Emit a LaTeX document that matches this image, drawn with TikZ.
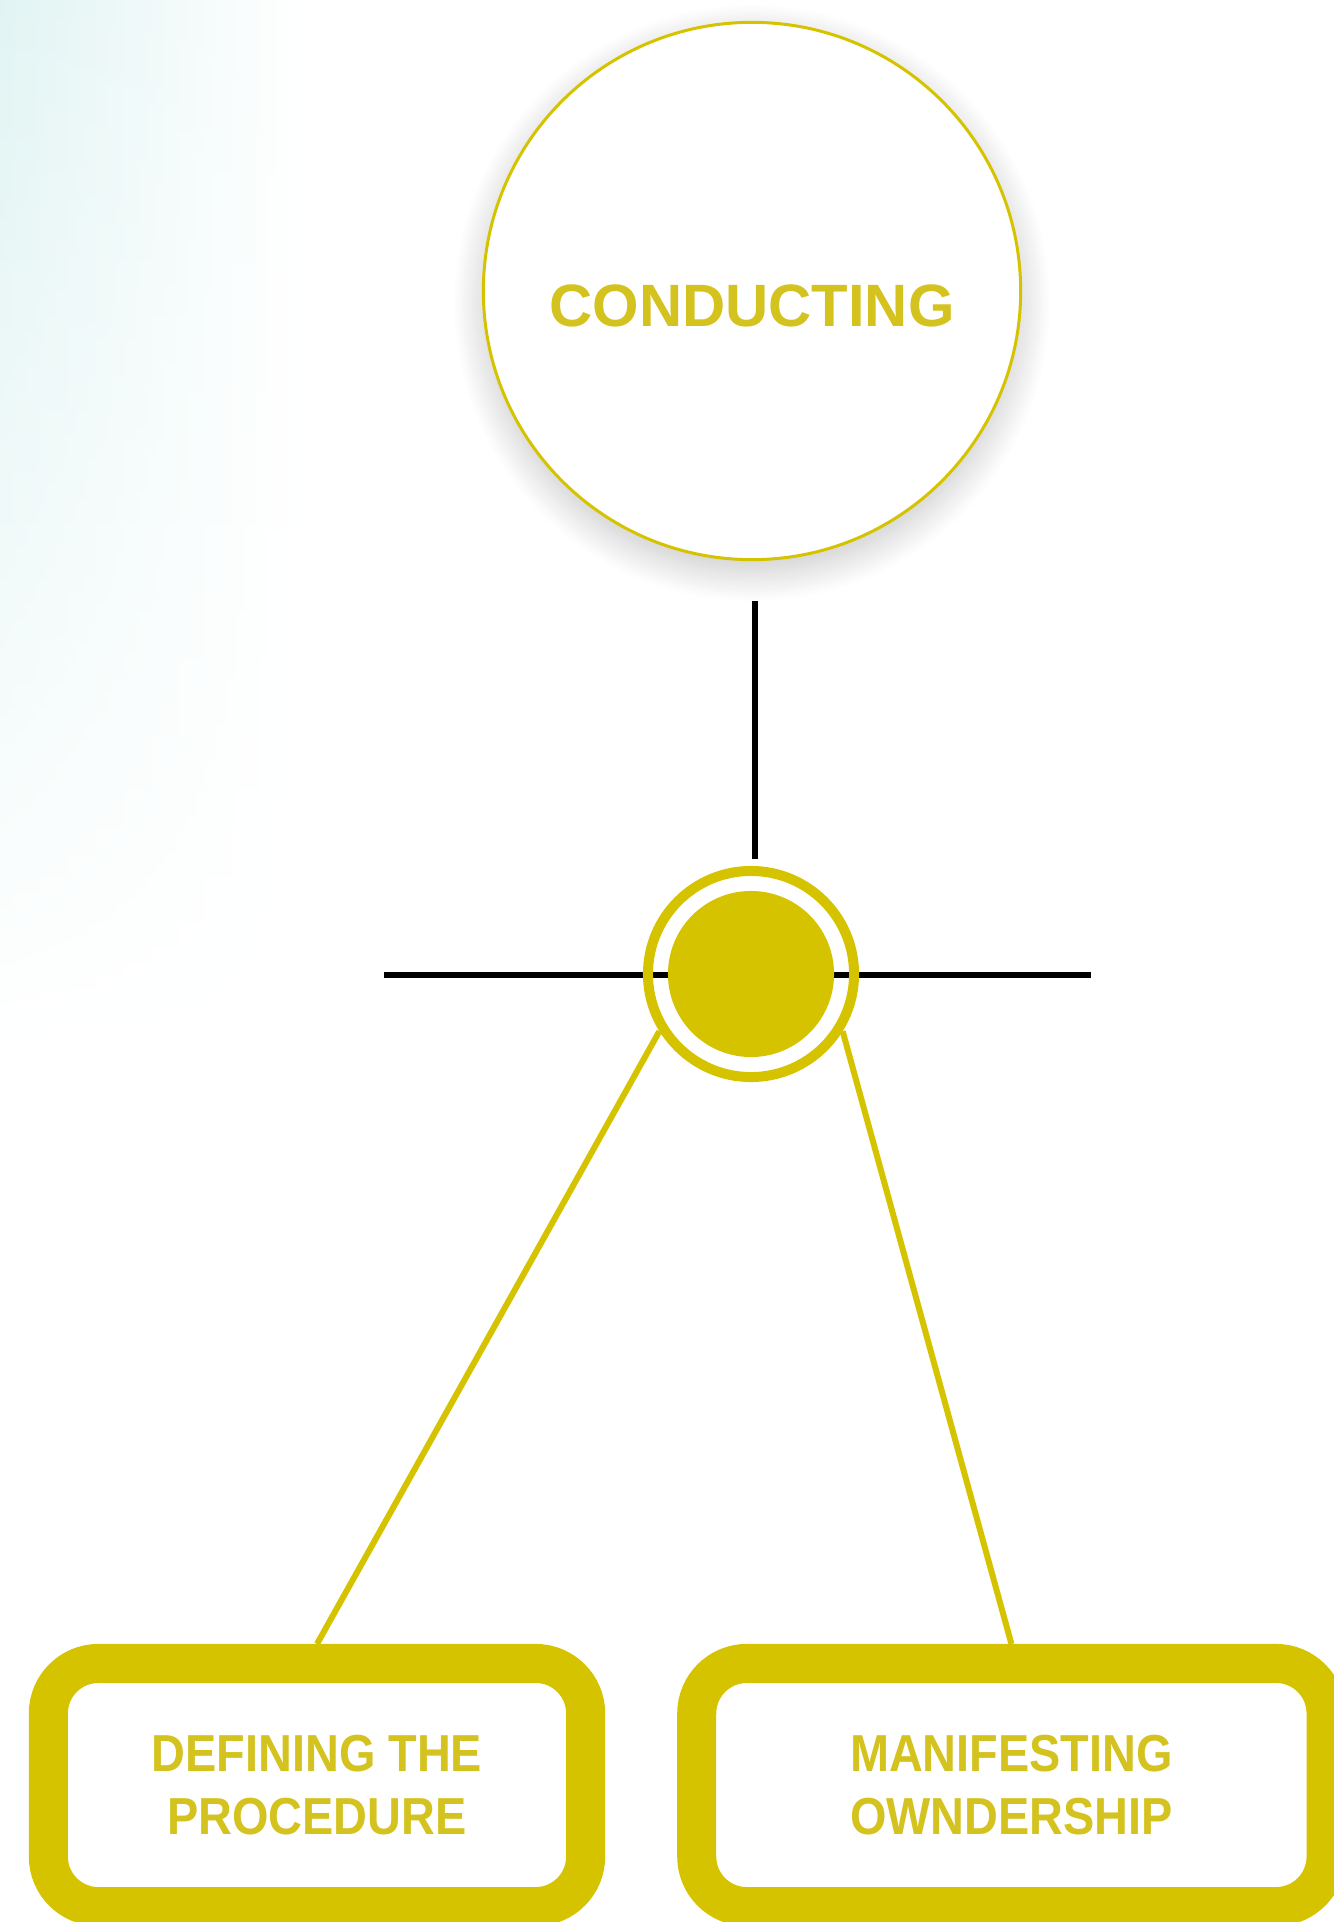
\documentclass[tikz,border=0pt]{standalone}
\usepackage{fontspec}
\setmainfont{Liberation Sans}
\newfontfamily\narrowsans[FakeStretch=0.9]{Liberation Sans}
\usetikzlibrary{positioning, shadows.blur, fadings}
\definecolor{mustard}{RGB}{214,195,0}
\definecolor{mustardtext}{RGB}{212,194,30}
\definecolor{mintbg}{RGB}{225,244,243}
\tikzset{
    topcircle/.style={circle, draw=mustard, line width=0.03cm, fill=white, minimum size=5.37cm, text=mustardtext, font=\fontsize{17}{20}\selectfont\bfseries, text height=0.72cm, blur shadow={shadow xshift=0cm, shadow yshift=-0.12cm, shadow blur radius=0.3cm, shadow blur steps=25, shadow opacity=22}},
    hubring/.style={circle, draw=mustard, line width=0.1cm, minimum size=2.06cm, inner sep=0pt},
    hubdot/.style={circle, fill=mustard, minimum size=1.66cm, inner sep=0pt},
    stagebox/.style={draw=mustard, line width=0.39cm, fill=white, rounded corners=0.5cm, align=center, text=mustardtext, font=\narrowsans\fontsize{14.8}{18}\selectfont\bfseries, minimum height=2.43cm},
    axisline/.style={black, line width=0.055cm},
    branch/.style={mustard, line width=0.06cm}
}
\begin{document}
\begin{tikzpicture}[x=0.01cm, y=-0.01cm]
    \useasboundingbox (0,0) rectangle (1333,1922);
    % soft tint in the corner
    \shade[left color=mintbg, right color=white, path fading=south] (0,0) rectangle (300,1050);

    \node[topcircle] (conduct) at (752,291) {CONDUCTING};

    \coordinate (hleft) at (384,975);
    \coordinate (hright) at (1091,975);
    \coordinate (vtop) at (755,601);
    \draw[axisline] (hleft) -- (hright);

    \node[hubring] (hub) at (751,974) {};
    \node[hubdot] (hubdot) at (hub) {};
    \draw[axisline, shorten >=0.07cm] (vtop) -- (vtop |- hub.north);

    \node[stagebox, minimum width=5.37cm] (defproc) at (317,1785) {DEFINING THE\\PROCEDURE};
    \node[stagebox, minimum width=6.29cm, right=0.72cm of defproc] (ownership) {MANIFESTING\\OWNDERSHIP};

    \draw[branch] (hub.212) -- (defproc.north);
    \draw[branch] (hub.328) -- (ownership.north);
\end{tikzpicture}
\end{document}
